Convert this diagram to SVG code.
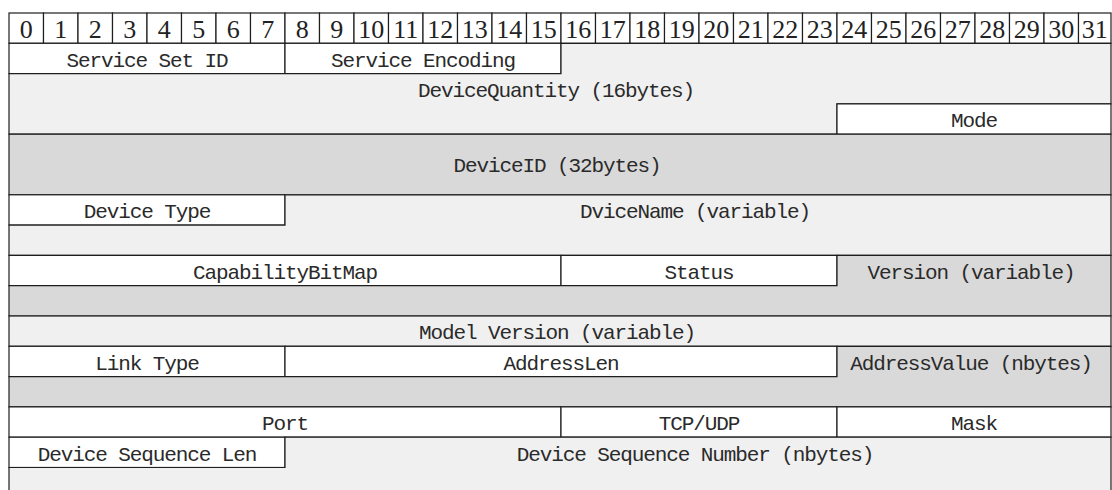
<svg xmlns="http://www.w3.org/2000/svg" width="1112" height="490" viewBox="0 0 1112 490">
<style>
.w{fill:#ffffff;stroke:#1e1e1e;stroke-width:1.2}
.l{fill:#f0f0f0;stroke:#1e1e1e;stroke-width:1.2}
.d{fill:#d9d9d9;stroke:#1e1e1e;stroke-width:1.2}
.t{font-family:"Liberation Mono",monospace;font-size:21px;letter-spacing:-1.1px;fill:#2a2a2a;text-anchor:middle}
.h{font-family:"Liberation Serif",serif;font-size:26px;fill:#222;text-anchor:middle}
</style>
<rect x="0" y="0" width="1112" height="490" fill="#ffffff"/>
<g id="header">
<rect class="w" x="9" y="13" width="34.5" height="30.3"/><text class="h" x="26.25" y="37.5">0</text>
<rect class="w" x="43.5" y="13" width="34.5" height="30.3"/><text class="h" x="60.75" y="37.5">1</text>
<rect class="w" x="78" y="13" width="34.5" height="30.3"/><text class="h" x="95.25" y="37.5">2</text>
<rect class="w" x="112.5" y="13" width="34.5" height="30.3"/><text class="h" x="129.75" y="37.5">3</text>
<rect class="w" x="147" y="13" width="34.5" height="30.3"/><text class="h" x="164.25" y="37.5">4</text>
<rect class="w" x="181.5" y="13" width="34.5" height="30.3"/><text class="h" x="198.75" y="37.5">5</text>
<rect class="w" x="216" y="13" width="34.5" height="30.3"/><text class="h" x="233.25" y="37.5">6</text>
<rect class="w" x="250.5" y="13" width="34.5" height="30.3"/><text class="h" x="267.75" y="37.5">7</text>
<rect class="w" x="285" y="13" width="34.5" height="30.3"/><text class="h" x="302.25" y="37.5">8</text>
<rect class="w" x="319.5" y="13" width="34.5" height="30.3"/><text class="h" x="336.75" y="37.5">9</text>
<rect class="w" x="354" y="13" width="34.5" height="30.3"/><text class="h" x="371.25" y="37.5">10</text>
<rect class="w" x="388.5" y="13" width="34.5" height="30.3"/><text class="h" x="405.75" y="37.5">11</text>
<rect class="w" x="423" y="13" width="34.5" height="30.3"/><text class="h" x="440.25" y="37.5">12</text>
<rect class="w" x="457.5" y="13" width="34.5" height="30.3"/><text class="h" x="474.75" y="37.5">13</text>
<rect class="w" x="492" y="13" width="34.5" height="30.3"/><text class="h" x="509.25" y="37.5">14</text>
<rect class="w" x="526.5" y="13" width="34.5" height="30.3"/><text class="h" x="543.75" y="37.5">15</text>
<rect class="w" x="561" y="13" width="34.5" height="30.3"/><text class="h" x="578.25" y="37.5">16</text>
<rect class="w" x="595.5" y="13" width="34.5" height="30.3"/><text class="h" x="612.75" y="37.5">17</text>
<rect class="w" x="630" y="13" width="34.5" height="30.3"/><text class="h" x="647.25" y="37.5">18</text>
<rect class="w" x="664.5" y="13" width="34.5" height="30.3"/><text class="h" x="681.75" y="37.5">19</text>
<rect class="w" x="699" y="13" width="34.5" height="30.3"/><text class="h" x="716.25" y="37.5">20</text>
<rect class="w" x="733.5" y="13" width="34.5" height="30.3"/><text class="h" x="750.75" y="37.5">21</text>
<rect class="w" x="768" y="13" width="34.5" height="30.3"/><text class="h" x="785.25" y="37.5">22</text>
<rect class="w" x="802.5" y="13" width="34.5" height="30.3"/><text class="h" x="819.75" y="37.5">23</text>
<rect class="w" x="837" y="13" width="34.5" height="30.3"/><text class="h" x="854.25" y="37.5">24</text>
<rect class="w" x="871.5" y="13" width="34.5" height="30.3"/><text class="h" x="888.75" y="37.5">25</text>
<rect class="w" x="906" y="13" width="34.5" height="30.3"/><text class="h" x="923.25" y="37.5">26</text>
<rect class="w" x="940.5" y="13" width="34.5" height="30.3"/><text class="h" x="957.75" y="37.5">27</text>
<rect class="w" x="975" y="13" width="34.5" height="30.3"/><text class="h" x="992.25" y="37.5">28</text>
<rect class="w" x="1009.5" y="13" width="34.5" height="30.3"/><text class="h" x="1026.75" y="37.5">29</text>
<rect class="w" x="1044" y="13" width="34.5" height="30.3"/><text class="h" x="1061.25" y="37.5">30</text>
<rect class="w" x="1078.5" y="13" width="32.5" height="30.3"/><text class="h" x="1094.75" y="37.5">31</text>
</g>
<g id="service-set-id"><rect class="w" x="9" y="43.3" width="276" height="30.3"/><text class="t" x="147" y="66.5">Service Set ID</text></g>
<g id="service-encoding"><rect class="w" x="285" y="43.3" width="276" height="30.3"/><text class="t" x="423" y="66.5">Service Encoding</text></g>
<g id="device-quantity"><path class="l" d="M561 43.3H1111V103.9H837V134.2H9V73.6H561Z"/><text class="t" x="556" y="96.7">DeviceQuantity (16bytes)</text></g>
<g id="mode"><rect class="w" x="837" y="103.9" width="274" height="30.3"/><text class="t" x="974" y="127">Mode</text></g>
<g id="device-id"><rect class="d" x="9" y="134.2" width="1102" height="60.6"/><text class="t" x="557" y="172">DeviceID (32bytes)</text></g>
<g id="device-type"><rect class="w" x="9" y="194.8" width="276" height="30.3"/><text class="t" x="147" y="218">Device Type</text></g>
<g id="device-name"><path class="l" d="M285 194.8H1111V255.4H9V225.1H285Z"/><text class="t" x="695" y="218">DviceName (variable)</text></g>
<g id="capability-bitmap"><rect class="w" x="9" y="255.4" width="552" height="30.3"/><text class="t" x="285" y="278.5">CapabilityBitMap</text></g>
<g id="status"><rect class="w" x="561" y="255.4" width="276" height="30.3"/><text class="t" x="699" y="278.5">Status</text></g>
<g id="version"><path class="d" d="M837 255.4H1111V316H9V285.7H837Z"/><text class="t" x="971" y="278.5">Version (variable)</text></g>
<g id="model-version"><rect class="l" x="9" y="316" width="1102" height="30.3"/><text class="t" x="557" y="339">Model Version (variable)</text></g>
<g id="link-type"><rect class="w" x="9" y="346.3" width="276" height="30.3"/><text class="t" x="147" y="369.5">Link Type</text></g>
<g id="address-len"><rect class="w" x="285" y="346.3" width="552" height="30.3"/><text class="t" x="561" y="369.5">AddressLen</text></g>
<g id="address-value"><path class="d" d="M837 346.3H1111V406.9H9V376.6H837Z"/><text class="t" x="971" y="369.5">AddressValue (nbytes)</text></g>
<g id="port"><rect class="w" x="9" y="406.9" width="552" height="30.3"/><text class="t" x="285" y="430">Port</text></g>
<g id="tcp-udp"><rect class="w" x="561" y="406.9" width="276" height="30.3"/><text class="t" x="699" y="430">TCP/UDP</text></g>
<g id="mask"><rect class="w" x="837" y="406.9" width="274" height="30.3"/><text class="t" x="974" y="430">Mask</text></g>
<g id="device-sequence-len"><rect class="w" x="9" y="437.2" width="276" height="30.3"/><text class="t" x="147" y="460.5">Device Sequence Len</text></g>
<g id="device-sequence-number"><path class="l" d="M285 437.2H1111V497.8H9V467.5H285Z"/><text class="t" x="695" y="460.5">Device Sequence Number (nbytes)</text></g>
<g id="connectors"/>
</svg>
